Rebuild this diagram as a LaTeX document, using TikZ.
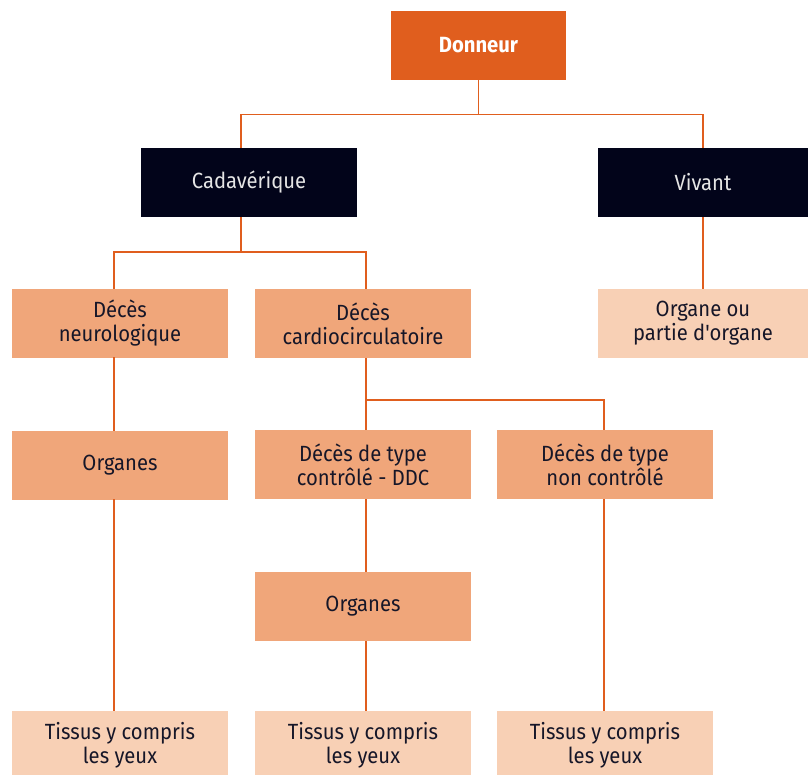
\documentclass[tikz,border=0pt]{standalone}
\usepackage{fontspec}
\setmainfont{Fira Sans}[FakeStretch=0.92,Ligatures=TeXOff]
\definecolor{orangeD}{RGB}{224,94,30}
\definecolor{navyD}{RGB}{2,4,26}
\definecolor{peachM}{RGB}{240,166,122}
\definecolor{peachL}{RGB}{248,208,181}
\definecolor{txtD}{RGB}{22,22,40}
\tikzset{
  box/.style={rectangle, inner sep=0pt, align=center, font=\fontsize{22}{24}\selectfont},
  topbox/.style={box, fill=orangeD, text=white, font=\fontsize{22}{24}\selectfont\bfseries, minimum width=175pt, minimum height=69pt},
  darkbox/.style={box, fill=navyD, text=white!90!black, minimum height=69pt},
  midbox/.style={box, fill=peachM, text=txtD, minimum width=216pt, minimum height=69pt},
  lightbox/.style={box, fill=peachL, text=txtD, minimum height=69pt},
  conn/.style={draw=orangeD, line width=1.4pt}
}
\begin{document}
\begin{tikzpicture}[x=1pt,y=-1pt]
\useasboundingbox (0,0) rectangle (808,774);
\node[topbox] (donneur) at (478.5,45.5) {Donneur};
\node[darkbox, minimum width=216pt] (cad) at (249,182.5) {Cadavérique};
\node[darkbox, minimum width=210pt] (viv) at (703,182.5) {Vivant};
\node[midbox] (neuro) at (120,323) {Décès\\neurologique};
\node[midbox] (cardio) at (363,323.5) {Décès\\cardiocirculatoire};
\node[lightbox, minimum width=210pt] (organe) at (703,323.5) {Organe ou\\partie d'organe};
\node[midbox] (org1) at (120,465) {Organes};
\node[midbox] (ddc) at (363,464.5) {Décès de type\\contrôlé - DDC};
\node[midbox] (nonc) at (605,464.5) {Décès de type\\non contrôlé};
\node[midbox] (org2) at (363,606.5) {Organes};
\node[lightbox, minimum width=216pt, minimum height=69pt] (t1) at (120,745.5) {Tissus y compris\\les yeux};
\node[lightbox, minimum width=216pt, minimum height=69pt] (t2) at (363,745.5) {Tissus y compris\\les yeux};
\node[lightbox, minimum width=216pt, minimum height=69pt] (t3) at (605,745.5) {Tissus y compris\\les yeux};
\coordinate (cadT) at (241,148);
\coordinate (cadB) at (241,217);
\coordinate (vivT) at (703,148);
\coordinate (neuT) at (114,289);
\coordinate (neuB) at (114,357);
\coordinate (carT) at (366,289);
\coordinate (carB) at (366,358);
\coordinate (o1T) at (114,431);
\coordinate (o1B) at (114,499);
\coordinate (ddcT) at (366,430);
\coordinate (ddcB) at (366,499);
\coordinate (ncT) at (604,430);
\coordinate (ncB) at (604,499);
\coordinate (o2T) at (366,572);
\coordinate (o2B) at (366,641);
\coordinate (t1T) at (114,711);
\coordinate (t2T) at (366,711);
\coordinate (t3T) at (604,711);
\draw[conn] (donneur.south) -- ++(0,34) -| (cadT);
\draw[conn] (donneur.south) -- ++(0,34) -| (vivT);
\draw[conn] (cadB) -- ++(0,35) -| (neuT);
\draw[conn] (cadB) -- ++(0,35) -| (carT);
\draw[conn] (viv.south) -- (organe.north);
\draw[conn] (neuB) -- (o1T);
\draw[conn] (o1B) -- (t1T);
\draw[conn] (carB) -- (ddcT);
\draw[conn] (carB) -- ++(0,42) -| (ncT);
\draw[conn] (ddcB) -- (o2T);
\draw[conn] (o2B) -- (t2T);
\draw[conn] (ncB) -- (t3T);
\end{tikzpicture}
\end{document}
